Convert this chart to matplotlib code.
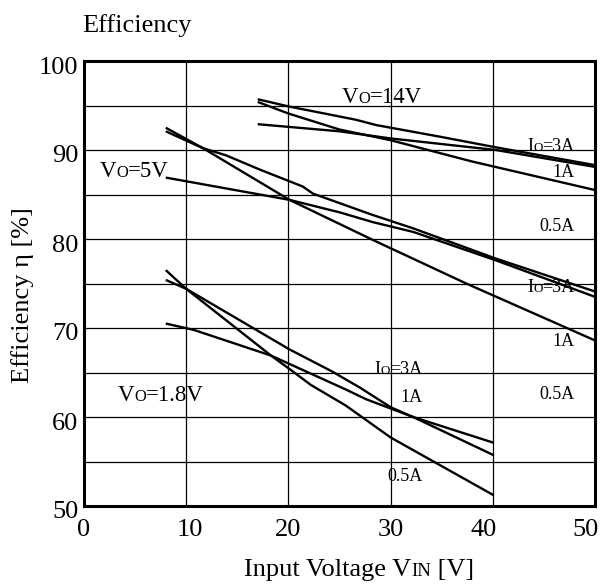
import matplotlib
matplotlib.use("Agg")
import matplotlib.pyplot as plt
from matplotlib.offsetbox import TextArea, HPacker, AnnotationBbox
from matplotlib.transforms import ScaledTranslation

SERIF = ["Liberation Serif", "DejaVu Serif"]
plt.rcParams["font.family"] = SERIF

# Vo = 14V curves
vin_14_3a = [17, 20, 26.6, 28.6, 34.8, 40.3, 50]
eff_14_3a = [95.7, 94.9, 93.4, 92.8, 91.5, 90.3, 88.3]
vin_14_1a = [17, 20, 25, 30, 38, 50]
eff_14_1a = [95.4, 94.1, 92.3, 91.1, 88.7, 85.5]
vin_14_05a = [17, 25, 30, 40.3, 50]
eff_14_05a = [92.9, 92.1, 91.3, 90.0, 88.1]

# Vo = 5V curves
vin_5_a = [8, 11.65, 20.1, 28.25, 37.4, 50]
eff_5_a = [92.5, 90.2, 84.4, 79.9, 75.0, 68.6]
vin_5_b = [8, 11.65, 13.9, 17.2, 21.4, 22.4, 28.25, 32.2, 40.3, 50]
eff_5_b = [92.1, 90.2, 89.4, 87.8, 85.9, 85.1, 82.7, 81.2, 77.8, 74.1]
vin_5_c = [8, 20.1, 25, 28.25, 32.2, 40.3, 50]
eff_5_c = [86.9, 84.4, 83.0, 81.9, 80.8, 77.6, 73.5]

# Vo = 1.8V curves
vin_18_a = [8, 10, 18.3, 20.1, 22.2, 25.6, 30, 40.1]
eff_18_a = [76.5, 74.4, 66.9, 65.4, 63.6, 61.3, 57.7, 51.2]
vin_18_b = [8, 10, 20.1, 24.3, 27, 30, 32.2, 40.1]
eff_18_b = [75.4, 74.4, 67.6, 65.1, 63.3, 61.1, 60.0, 55.7]
vin_18_c = [8, 10.7, 14.9, 18.3, 25.6, 27.6, 32.2, 40.1]
eff_18_c = [70.5, 69.8, 68.2, 66.9, 63.1, 62.0, 60.0, 57.1]

curves = [
    (vin_14_3a, eff_14_3a), (vin_14_1a, eff_14_1a), (vin_14_05a, eff_14_05a),
    (vin_5_a, eff_5_a), (vin_5_b, eff_5_b), (vin_5_c, eff_5_c),
    (vin_18_a, eff_18_a), (vin_18_b, eff_18_b), (vin_18_c, eff_18_c),
]

x_ticks = [0, 10, 20, 30, 40, 50]
x_tick_shift = [0, 4, 0, 0, -9, -10]  # pixels, labels sit a bit off in the original
y_ticks = [50, 60, 70, 80, 90, 100]

# labels: parts (text, small caps?), x, baseline y, horizontal anchor, size
labels = [
    ([("V", 0), ("O", 1), ("=14V", 0)], 25.2, 95.3, 0, 16.5),
    ([("V", 0), ("O", 1), ("=5V", 0)], 1.55, 87.0, 0, 16.5),
    ([("V", 0), ("O", 1), ("=1.8V", 0)], 3.3, 61.8, 0, 16.5),
    ([("I", 0), ("O", 1), ("=3A", 0)], 48.0, 89.9, 1, 13),
    ([("1A", 0)], 48.0, 87.0, 1, 13),
    ([("0.5A", 0)], 48.0, 80.9, 1, 13),
    ([("I", 0), ("O", 1), ("=3A", 0)], 48.0, 74.0, 1, 13),
    ([("1A", 0)], 48.0, 68.0, 1, 13),
    ([("0.5A", 0)], 48.0, 62.0, 1, 13),
    ([("I", 0), ("O", 1), ("=3A", 0)], 33.1, 64.8, 1, 13),
    ([("1A", 0)], 33.1, 61.7, 1, 13),
    ([("0.5A", 0)], 33.1, 52.8, 1, 13),
]


def mixed_text(parts, size, xy, coords, align):
    boxes = [TextArea(s, textprops=dict(size=size * (0.72 if small else 1.0),
                                        family=SERIF, color="black"))
             for s, small in parts]
    pack = HPacker(children=boxes, align="baseline", pad=0, sep=0)
    ab = AnnotationBbox(pack, xy, xycoords=coords,
                        xybox=(0, -0.217 * size), boxcoords="offset points",
                        box_alignment=(align, 0), frameon=False, pad=0)
    return ab


fig = plt.figure(figsize=(6.01, 5.84), dpi=100)
ax = fig.add_axes([84 / 601, 78 / 584, 511 / 601, 445 / 584])

for vin, eff in curves:
    ax.plot(vin, eff, color="black", lw=1.7, zorder=3, solid_capstyle="butt")

ax.set_xlim(0, 50)
ax.set_ylim(50, 100)
ax.set_xticks(x_ticks)
ax.set_yticks(y_ticks)
ax.set_yticks(range(55, 100, 10), minor=True)
ax.grid(which="both", color="black", lw=0.9, zorder=1)
ax.tick_params(which="both", length=0, labelsize=19)
ax.tick_params(axis="x", pad=9)
ax.tick_params(axis="y", pad=4)
for sp in ax.spines.values():
    sp.set_linewidth(2.2)
    sp.set_zorder(4)

fig.canvas.draw()
for lab, dx in zip(ax.get_xticklabels(), x_tick_shift):
    lab.set_transform(lab.get_transform() + ScaledTranslation(dx / 100, 0, fig.dpi_scale_trans))
for lab in ax.get_yticklabels():
    lab.set_transform(lab.get_transform() + ScaledTranslation(0, -4 / 100, fig.dpi_scale_trans))

for parts, x, y, align, size in labels:
    ax.add_artist(mixed_text(parts, size, (x, y), "data", align))

fig.text(82 / 601, 1 - 32 / 584, "Efficiency", fontsize=19, ha="left", va="baseline")
fig.text(23 / 601, 1 - 295 / 584, "Efficiency η [%]", fontsize=19,
         rotation=90, ha="center", va="center")

xl = mixed_text([("Input Voltage V", 0), ("IN", 1), (" [V]", 0)], 19,
                (359, 9), "figure pixels", 0.5)
xl.set_clip_on(False)
fig.add_artist(xl)

fig.savefig("out.png", dpi=100)
